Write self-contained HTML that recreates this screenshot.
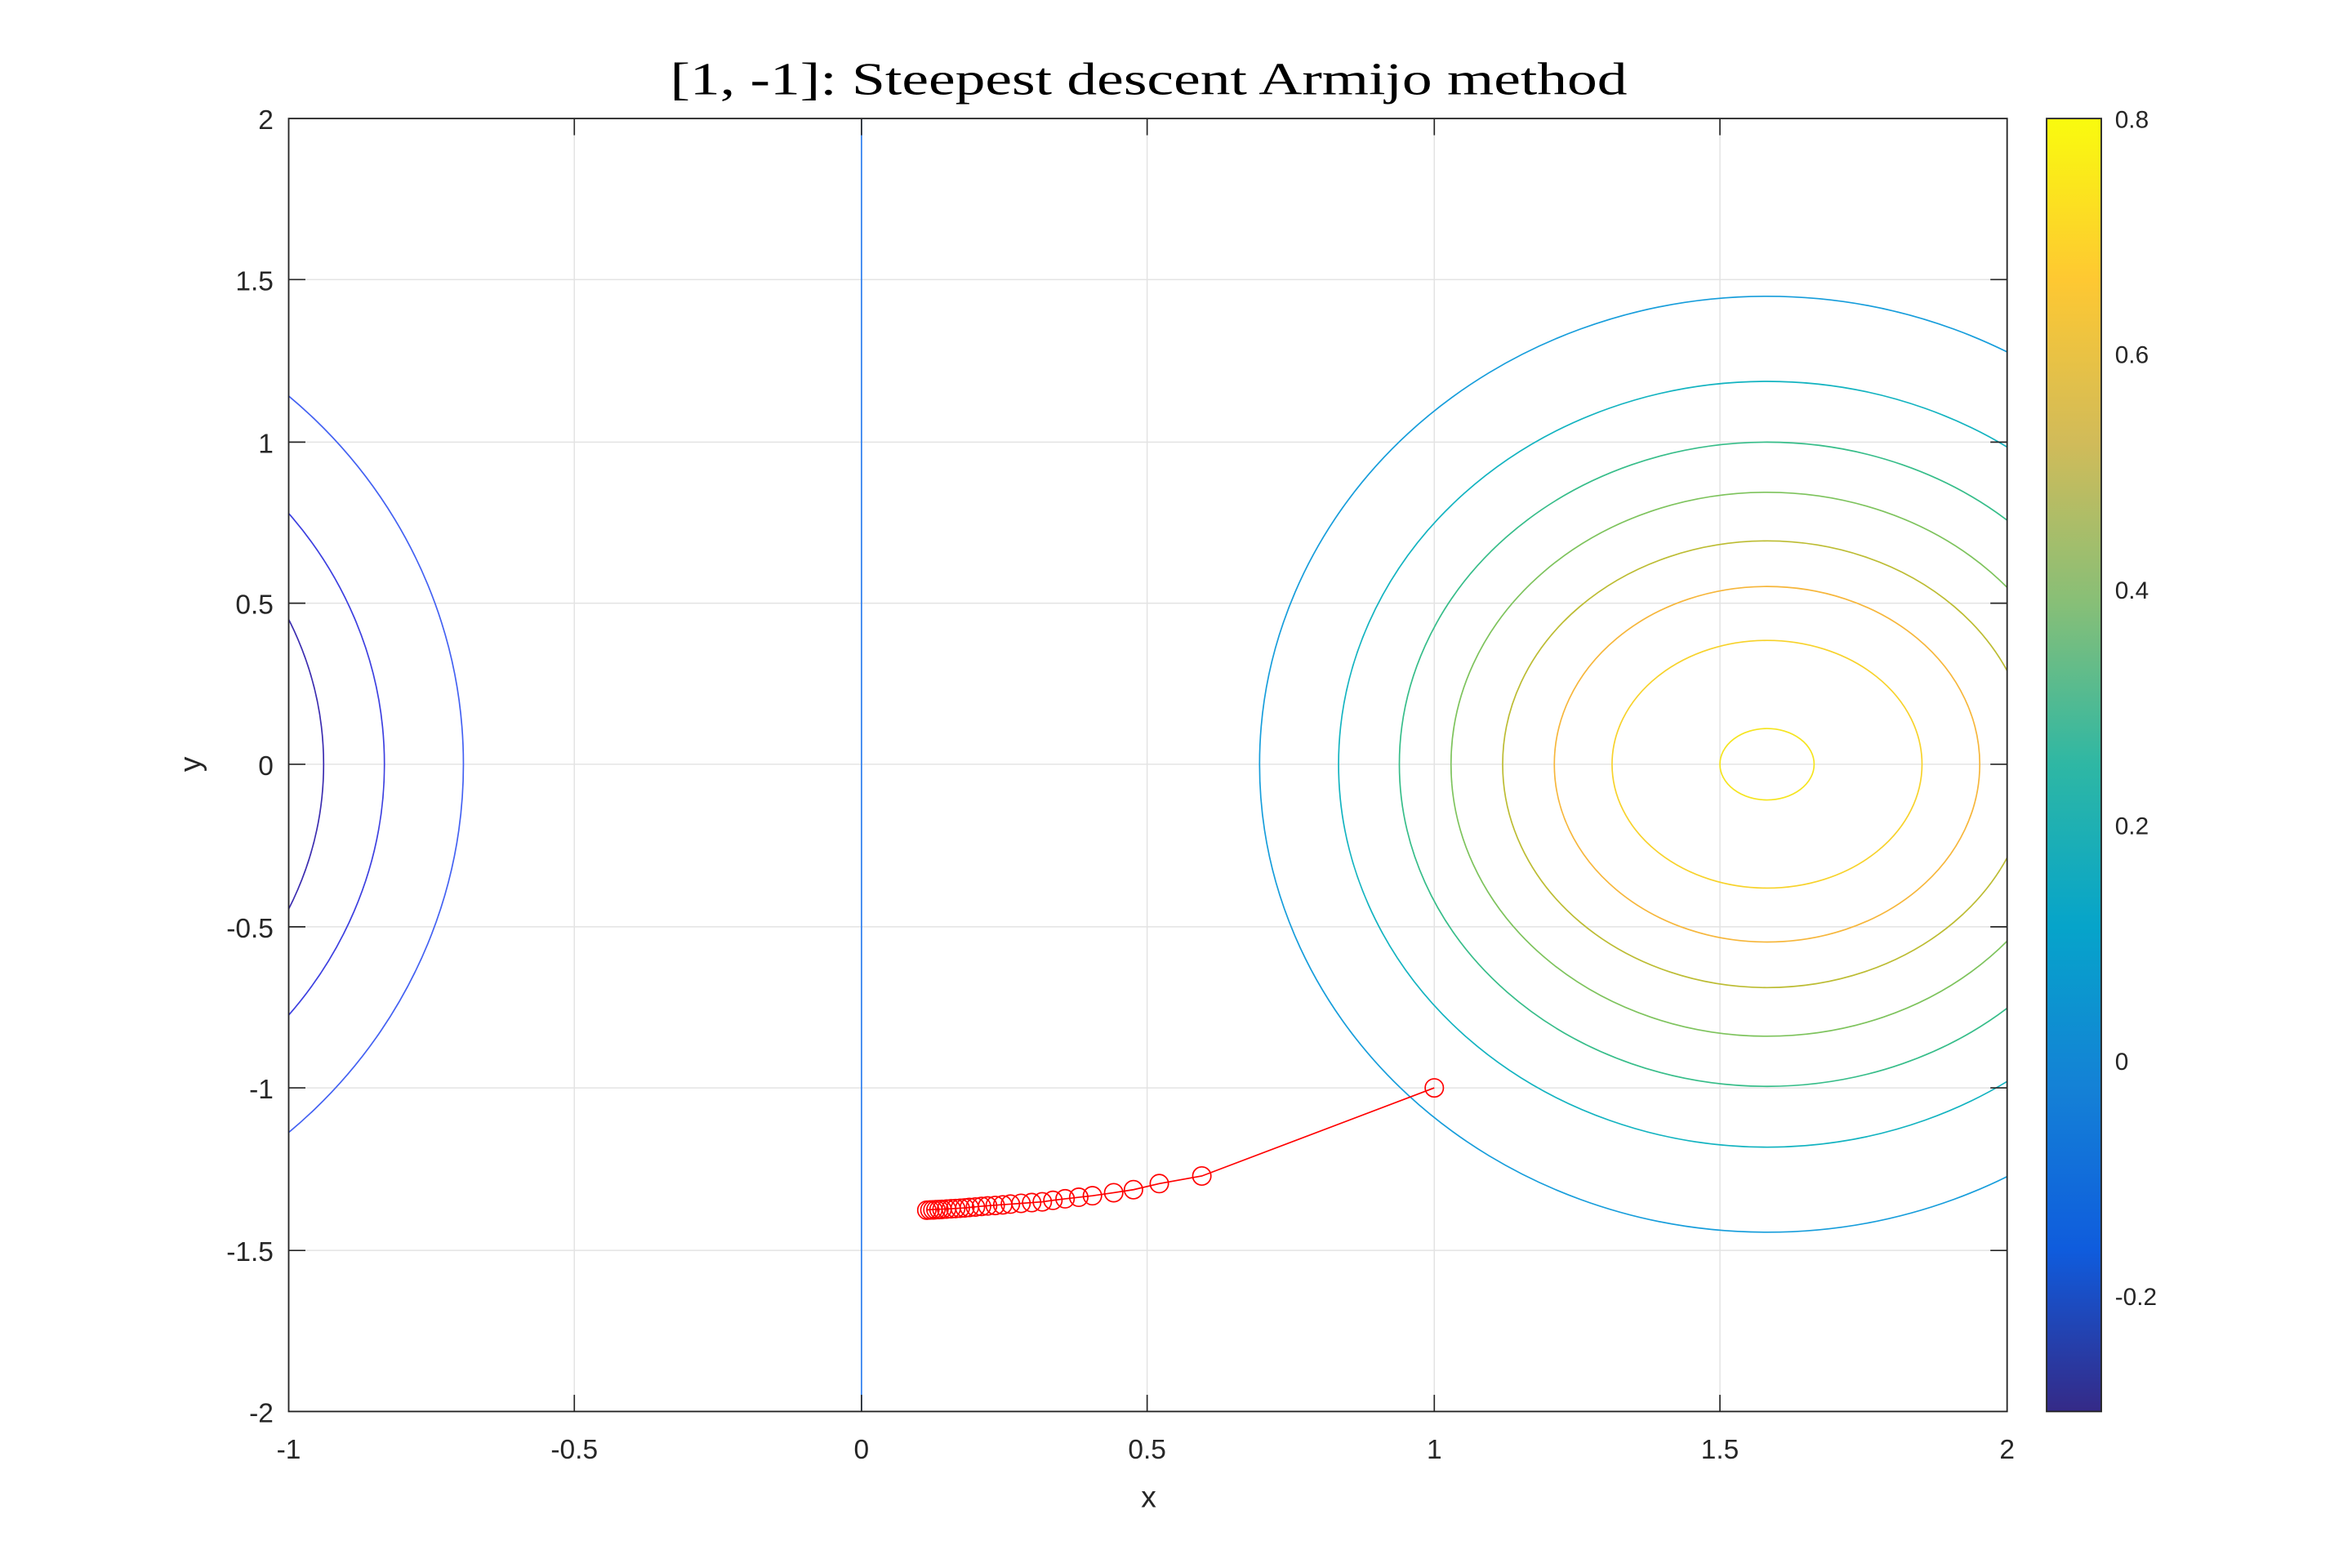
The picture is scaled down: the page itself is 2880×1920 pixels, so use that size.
<!DOCTYPE html>
<html><head><meta charset="utf-8"><style>html,body{margin:0;padding:0;background:#fff}svg{display:block}</style></head>
<body>
<svg width="2880" height="1920" viewBox="0 0 1548 1032" xmlns="http://www.w3.org/2000/svg">
<defs>
<clipPath id="c"><rect x="190" y="78" width="1131" height="851"/></clipPath>
<linearGradient id="pg" x1="0" y1="1" x2="0" y2="0">
<stop offset="0" stop-color="#352a87"/><stop offset="0.125" stop-color="#0f5cdd"/><stop offset="0.25" stop-color="#1481d6"/><stop offset="0.375" stop-color="#06a4ca"/><stop offset="0.5" stop-color="#2eb7a4"/><stop offset="0.625" stop-color="#87bf77"/><stop offset="0.75" stop-color="#d1bb59"/><stop offset="0.875" stop-color="#fec832"/><stop offset="1" stop-color="#f9fb0e"/>
</linearGradient>
</defs>
<rect width="1548" height="1032" fill="#fff"/>
<g stroke="#e3e3e3" stroke-width="0.8">
<line x1="378" y1="78" x2="378" y2="929"/><line x1="567" y1="78" x2="567" y2="929"/><line x1="755" y1="78" x2="755" y2="929"/><line x1="944" y1="78" x2="944" y2="929"/><line x1="1132" y1="78" x2="1132" y2="929"/>
<line x1="190" y1="184" x2="1321" y2="184"/><line x1="190" y1="291" x2="1321" y2="291"/><line x1="190" y1="397" x2="1321" y2="397"/><line x1="190" y1="503" x2="1321" y2="503"/><line x1="190" y1="610" x2="1321" y2="610"/><line x1="190" y1="716" x2="1321" y2="716"/><line x1="190" y1="823" x2="1321" y2="823"/>
</g>
<g clip-path="url(#c)" fill="none" stroke-width="0.9">
<ellipse cx="1163" cy="503" rx="31" ry="23.5" stroke="#f5e41e"/>
<ellipse cx="1163" cy="503" rx="102" ry="81.5" stroke="#f7d22a"/>
<ellipse cx="1163" cy="503" rx="140" ry="117" stroke="#f6b63a"/>
<ellipse cx="1163" cy="503" rx="174" ry="147" stroke="#bcbc32"/>
<ellipse cx="1163" cy="503" rx="208" ry="179" stroke="#7dc35c"/>
<ellipse cx="1163" cy="503" rx="242" ry="212" stroke="#36bd89"/>
<ellipse cx="1163" cy="503" rx="282" ry="252" stroke="#12b3c0"/>
<ellipse cx="1163" cy="503" rx="334" ry="308" stroke="#169ddb"/>
<ellipse cx="-29" cy="503" rx="242" ry="224" stroke="#3b2cb0"/>
<ellipse cx="-29" cy="503" rx="282" ry="262" stroke="#3c3fe0"/>
<ellipse cx="-29" cy="503" rx="334" ry="321" stroke="#4361f2"/>
<line x1="567" y1="78" x2="567" y2="929" stroke="#2e7ff0"/>
</g>
<g fill="none" stroke="#ff0000" stroke-width="0.9">
<polyline points="944,716 791,774 763,779 746,783 733,785 719,787 710,788 701,789 693,790 686,791 679,791.5 672,792 665,792.5 658,793 651,793.5 645,794 640,794.5 635,795 630,795.3 625,795.6 620,795.8 615,796 610,796.3"/>
<circle cx="944" cy="716" r="6"/><circle cx="791" cy="774" r="6"/><circle cx="763" cy="779" r="6"/><circle cx="746" cy="783" r="6"/><circle cx="733" cy="785" r="6"/><circle cx="719" cy="787" r="6"/><circle cx="710" cy="788" r="6"/><circle cx="701" cy="789" r="6"/><circle cx="693" cy="790" r="6"/><circle cx="686" cy="791" r="6"/><circle cx="679" cy="791.5" r="6"/><circle cx="672" cy="792" r="6"/><circle cx="665" cy="792.5" r="6"/><circle cx="660" cy="793" r="6"/><circle cx="655" cy="793.4" r="6"/><circle cx="650" cy="793.7" r="6"/><circle cx="646" cy="794" r="6"/><circle cx="642" cy="794.4" r="6"/><circle cx="638" cy="794.7" r="6"/><circle cx="635" cy="795" r="6"/><circle cx="632" cy="795.2" r="6"/><circle cx="629" cy="795.4" r="6"/><circle cx="626" cy="795.6" r="6"/><circle cx="623" cy="795.8" r="6"/><circle cx="620" cy="796" r="6"/><circle cx="618" cy="796.1" r="6"/><circle cx="616" cy="796.2" r="6"/><circle cx="614" cy="796.3" r="6"/><circle cx="612" cy="796.4" r="6"/><circle cx="610" cy="796.5" r="6"/>
</g>
<rect x="190" y="78" width="1131" height="851" fill="none" stroke="#262626" stroke-width="1"/>
<g stroke="#262626" stroke-width="0.9">
<line x1="378" y1="929" x2="378" y2="918"/><line x1="567" y1="929" x2="567" y2="918"/><line x1="755" y1="929" x2="755" y2="918"/><line x1="944" y1="929" x2="944" y2="918"/><line x1="1132" y1="929" x2="1132" y2="918"/>
<line x1="378" y1="78" x2="378" y2="89"/><line x1="567" y1="78" x2="567" y2="89"/><line x1="755" y1="78" x2="755" y2="89"/><line x1="944" y1="78" x2="944" y2="89"/><line x1="1132" y1="78" x2="1132" y2="89"/>
<line x1="190" y1="184" x2="201" y2="184"/><line x1="190" y1="291" x2="201" y2="291"/><line x1="190" y1="397" x2="201" y2="397"/><line x1="190" y1="503" x2="201" y2="503"/><line x1="190" y1="610" x2="201" y2="610"/><line x1="190" y1="716" x2="201" y2="716"/><line x1="190" y1="823" x2="201" y2="823"/>
<line x1="1321" y1="184" x2="1310" y2="184"/><line x1="1321" y1="291" x2="1310" y2="291"/><line x1="1321" y1="397" x2="1310" y2="397"/><line x1="1321" y1="503" x2="1310" y2="503"/><line x1="1321" y1="610" x2="1310" y2="610"/><line x1="1321" y1="716" x2="1310" y2="716"/><line x1="1321" y1="823" x2="1310" y2="823"/>
</g>
<rect x="1347" y="78" width="36" height="851" fill="url(#pg)" stroke="#262626" stroke-width="1"/>
<g font-family="Liberation Sans, DejaVu Sans, sans-serif" font-size="18" fill="#262626">
<g text-anchor="middle">
<text x="190" y="960">-1</text><text x="378" y="960">-0.5</text><text x="567" y="960">0</text><text x="755" y="960">0.5</text><text x="944" y="960">1</text><text x="1132" y="960">1.5</text><text x="1321" y="960">2</text>
<text x="756" y="992" font-size="20">x</text>
</g>
<g text-anchor="end">
<text x="180" y="85">2</text><text x="180" y="191">1.5</text><text x="180" y="298">1</text><text x="180" y="404">0.5</text><text x="180" y="510">0</text><text x="180" y="617">-0.5</text><text x="180" y="723">-1</text><text x="180" y="830">-1.5</text><text x="180" y="936">-2</text>
</g>
<text x="125" y="503" font-size="20" text-anchor="middle" transform="rotate(-90 125 503)" dy="7">y</text>
<g font-size="16">
<text x="1392" y="84">0.8</text><text x="1392" y="239">0.6</text><text x="1392" y="394">0.4</text><text x="1392" y="549">0.2</text><text x="1392" y="704">0</text><text x="1392" y="859">-0.2</text>
</g>
</g>
<text x="756" y="62" text-anchor="middle" font-family="Liberation Serif, DejaVu Serif, serif" font-size="30" fill="#000" textLength="630" lengthAdjust="spacingAndGlyphs">[1, -1]: Steepest descent Armijo method</text>
</svg>
</body></html>
